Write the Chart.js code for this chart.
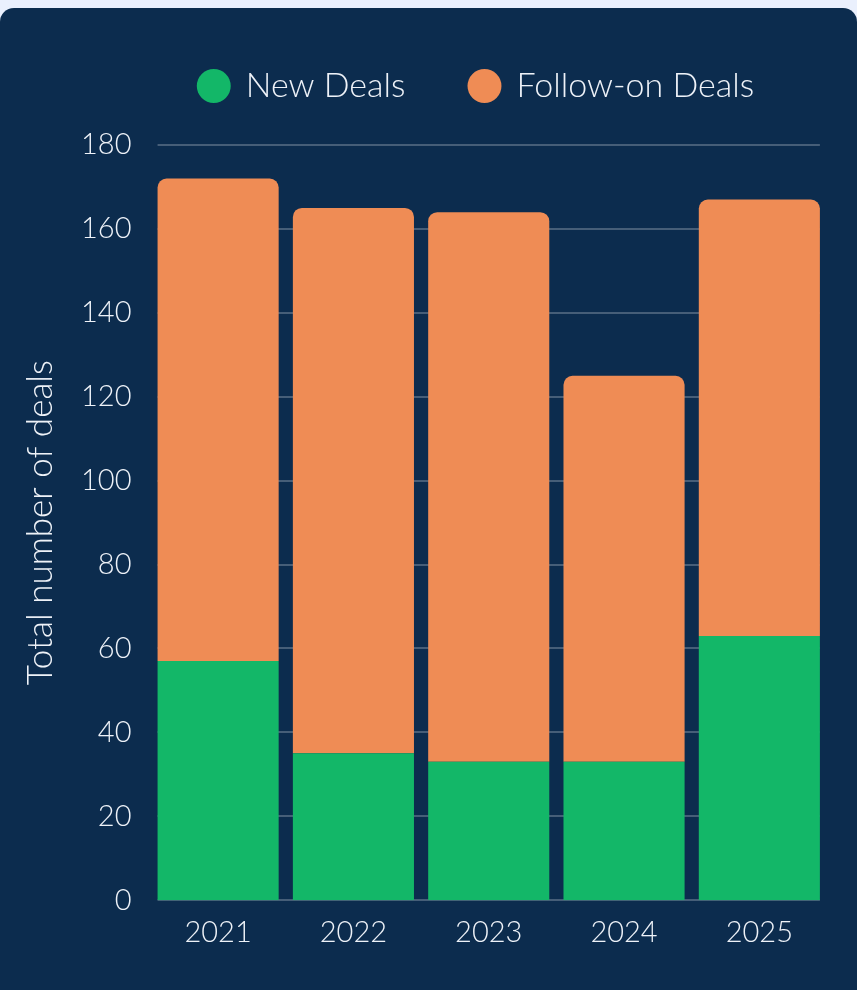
<!DOCTYPE html>
<html>
<head>
<meta charset="utf-8">
<script src="https://cdn.jsdelivr.net/npm/chart.js@4.4.1/dist/chart.umd.min.js"></script>
<style>
  html, body { margin: 0; padding: 0; background: #eaf0fd; }
  .card {
    position: absolute; left: 0; top: 8px; width: 857px; height: 1000px;
    background: #0c2c4e; border-radius: 14px; overflow: hidden;
  }
  .chart-wrap { position: absolute; left: 0; top: -3px; width: 857px; height: 985px; }
</style>
</head>
<body>
<div class="card">
  <div class="chart-wrap"><canvas id="dealsChart"></canvas></div>
</div>
<script>
// --- Data ---
var years = ['2021', '2022', '2023', '2024', '2025'];
var newDeals = [57, 35, 33, 33, 63];
var followOnDeals = [115, 130, 131, 92, 104];
var yTicks = [0, 20, 40, 60, 80, 100, 120, 140, 160, 180];

var textColor = '#eef2f8';
var gridColor = 'rgba(255, 255, 255, 0.24)';
var fontFamily = 'Lato, "Noto Sans", sans-serif';

// extra space between legend and plot, and nudge the legend over the plot
const legendMargin = {
    id: 'legendMargin',
    beforeInit(chart) {
        const fit = chart.legend.fit;
        chart.legend.fit = function () {
            fit.bind(chart.legend)();
            this.height += 32;
        };
    },
    afterLayout(chart) {
        chart.legend.left += 53;
        chart.legend.right += 53;
    }
};

// grid lines only span from the first bar's left edge to the last bar's right edge
const barGrid = {
    id: 'barGrid',
    beforeDatasetsDraw(chart) {
        const bars = chart.getDatasetMeta(0).data;
        if (!bars.length) return;
        const first = bars[0], last = bars[bars.length - 1];
        const x0 = first.x - first.width / 2;
        const x1 = last.x + last.width / 2;
        const y = chart.scales.y;
        const c = chart.ctx;
        c.save();
        c.strokeStyle = gridColor;
        c.lineWidth = 2;
        y.ticks.forEach(t => {
            const py = Math.round(y.getPixelForValue(t.value));
            c.beginPath();
            c.moveTo(x0, py);
            c.lineTo(x1, py);
            c.stroke();
        });
        c.restore();
    }
};

document.addEventListener('DOMContentLoaded', () => {
    const ctx = document.getElementById('dealsChart');

    new Chart(ctx, {
        type: 'bar',
        data: {
            labels: years,
            datasets: [
                { label: 'New Deals', data: newDeals, backgroundColor: '#13b768', borderWidth: 0, borderRadius: 0 },
                {
                    label: 'Follow-on Deals', data: followOnDeals, backgroundColor: '#ef8c55', borderWidth: 0,
                    borderRadius: { topLeft: 9, topRight: 9, bottomLeft: 0, bottomRight: 0 }, borderSkipped: false
                }
            ]
        },
        options: {
            responsive: true, maintainAspectRatio: false, animation: false,
            datasets: { bar: { categoryPercentage: 1, barPercentage: 0.895 } },
            layout: { padding: { left: 20, right: 30, top: 0, bottom: 33 } },
            plugins: {
                tooltip: { enabled: false },
                legend: {
                    position: 'top',
                    labels: {
                        color: textColor, usePointStyle: true, pointStyle: 'circle',
                        boxWidth: 30, boxHeight: 24, padding: 64,
                        font: { family: fontFamily, size: 34, weight: 300 }
                    }
                }
            },
            scales: {
                x: {
                    stacked: true,
                    grid: { display: false },
                    border: { display: false },
                    ticks: { color: textColor, padding: 7, font: { family: fontFamily, size: 29, weight: 300 } }
                },
                y: {
                    stacked: true, min: 0, max: 180,
                    afterBuildTicks: (axis) => { axis.ticks = yTicks.map(v => ({ value: v })); },
                    grid: { display: false, drawTicks: false },
                    border: { display: false },
                    ticks: { color: textColor, padding: 19, font: { family: fontFamily, size: 29, weight: 300 } },
                    title: {
                        display: true, text: 'Total number of deals', color: textColor, padding: 0,
                        font: { family: fontFamily, size: 35, weight: 300 }
                    }
                }
            }
        },
        plugins: [legendMargin, barGrid]
    });
});
</script>
</body>
</html>
